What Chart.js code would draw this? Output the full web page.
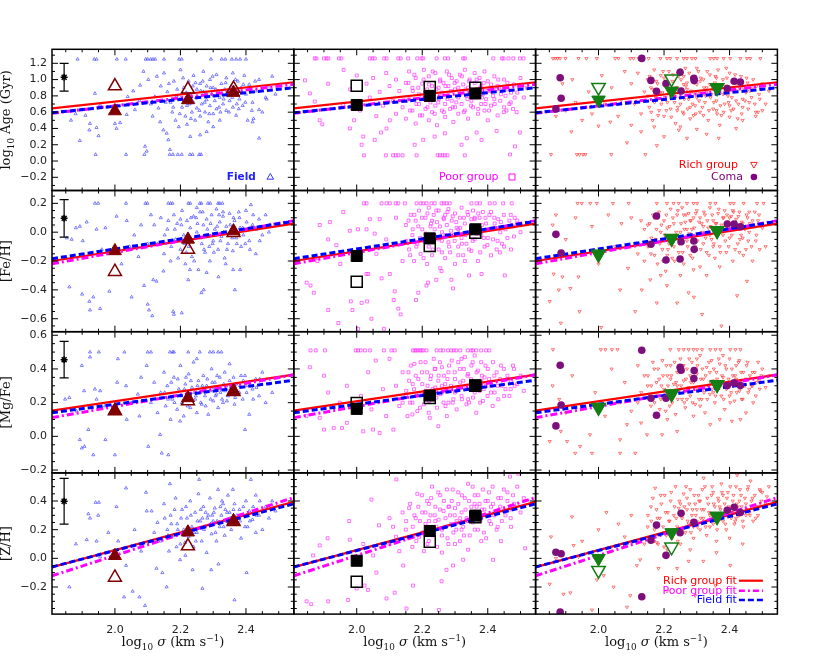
<!DOCTYPE html>
<html>
<head>
<meta charset="utf-8">
<script src="https://cdn.jsdelivr.net/npm/chart.js@4/dist/chart.umd.min.js"></script>
<style>
  body { margin: 0; background: #fff; }
  #wrap { position: relative; width: 830px; height: 664px; }
  #wrap canvas { position: absolute; left: 0; top: 0; }
</style>
</head>
<body>
<div id="wrap"></div>
<script>
// axes
const sigmaRange = [1.808, 2.546];
const rowRanges = [[-0.362, 1.372], [-0.69, 0.289], [-0.217, 0.621], [-0.389, 0.596]];
const rowMinor = [0.1, 0.05, 0.05, 0.05];
const sigmaTickLabels = ['2.0', '2.2', '2.4'];
const rowTickLabels = [
  ['\u22120.2', '0.0', '0.2', '0.4', '0.6', '0.8', '1.0', '1.2'],
  ['\u22120.6', '\u22120.4', '\u22120.2', '0.0', '0.2'],
  ['\u22120.2', '0.0', '0.2', '0.4', '0.6'],
  ['\u22120.2', '0.0', '0.2', '0.4']
];

// binned means (sigma bins) : [row][bin]
const binSigma = [2.0, 2.223, 2.362];
const fieldMeanFilled = [[0.614, 0.75, 0.84], [-0.13, -0.05, 0.008], [0.154, 0.228, 0.271], [0.018, 0.182, 0.26]];
const fieldMeanOpen = [[0.92, 0.88, 0.89], [-0.274, -0.12, -0.004], [0.15, 0.21, 0.265], [-0.133, 0.086, 0.255]];
const poorMeanFilled = [[0.688, 0.80, 0.83], [-0.165, -0.043, 0.02], [0.163, 0.242, 0.303], [-0.017, 0.191, 0.298]];
const poorMeanOpen = [[0.925, 0.91, 0.90], [-0.343, -0.096, -0.004], [0.198, 0.228, 0.30], [-0.164, 0.116, 0.287]];
const richMeanFilled = [[0.75, 0.86, 0.90], [-0.153, -0.043, 0.01], [0.172, 0.252, 0.307], [0.0, 0.18, 0.296]];
const richMeanOpen = [[0.905, 1.01, 0.90], [-0.153, -0.043, 0.01], [0.172, 0.252, 0.307], [-0.084, 0.079, 0.29]];

// fits: value at sigma ends, per row
const fitSigma = [1.808, 2.546];
const richFit = [[0.647, 0.967], [-0.20, 0.059], [0.153, 0.366], [-0.061, 0.394]];
const poorFit = [[0.586, 0.942], [-0.219, 0.08], [0.111, 0.365], [-0.122, 0.424]];
const fieldFit = [[0.593, 0.90], [-0.184, 0.075], [0.14, 0.333], [-0.06, 0.38]];

// typical error
const errSigma = 1.845;
const errCentre = [1.028, 0.096, 0.455, 0.398];
const errHalf = [0.17, 0.13, 0.108, 0.16];

// Coma
const comaSigma = [1.870, 1.883, 1.886, 2.132, 2.160, 2.177, 2.206, 2.249, 2.252, 2.291, 2.292, 2.393, 2.414, 2.433];
const comaAge = [0.64, 1.023, 0.77, 1.26, 0.99, 0.856, 0.95, 1.09, 0.86, 1.015, 0.99, 0.89, 0.98, 0.97];
const comaFeH = [-0.015, null, -0.144, null, -0.084, 0.112, -0.193, -0.186, -0.066, -0.061, -0.119, 0.057, 0.057, 0.038];
const comaMgFe = [0.062, 0.422, 0.186, 0.511, 0.226, 0.125, 0.226, 0.41, 0.392, 0.343, 0.39, 0.301, 0.317, 0.301];
const comaZH = [0.042, -0.375, 0.032, -0.268, 0.126, 0.232, 0.021, 0.179, 0.314, 0.251, null, 0.335, 0.356, 0.32];

// individual galaxies [log sigma, value]
const fieldAge = [
[1.886,1.25],[1.937,1.25],[1.944,1.25],[2.006,1.25],[2.033,1.25],[2.094,1.25],[2.100,1.25],[2.109,1.25],[2.116,1.25],[2.123,1.25],[2.150,1.25],[2.196,1.25],[2.204,1.25],[2.293,1.25],[2.326,1.25],[2.337,1.25],[2.357,1.25],[2.370,1.25],[2.382,1.25],[2.400,1.25],
[1.941,0.08],[2.034,0.08],[2.090,0.08],[2.167,0.08],[2.177,0.08],[2.192,0.08],[2.204,0.08],[2.229,0.08],[2.237,0.08],[2.257,0.08],[2.263,0.08],
[1.866,0.50],[1.880,0.58],[1.893,0.25],[1.899,0.63],[1.910,0.56],[1.922,0.38],[1.924,0.46],[1.939,0.83],[1.944,0.41],[1.950,0.31],[1.955,0.69],
[2.000,0.46],[2.005,0.40],[2.016,0.47],[2.036,0.57],[2.039,0.79],[2.056,0.86],[2.061,0.63],[2.075,0.74],[2.077,0.93],[2.087,1.10],[2.092,0.18],[2.097,0.12],[2.102,1.00],[2.110,0.70],[2.115,0.55],[2.122,0.79],[2.128,1.04],[2.133,0.65],[2.138,0.48],[2.140,0.92],[2.148,0.38],[2.150,1.08],[2.158,0.34],[2.160,0.85],[2.163,0.26],[2.168,0.14],[2.170,0.72],[2.175,0.60],[2.180,0.98],[2.185,0.50],[2.190,0.88],[2.195,0.42],[2.200,0.77],[2.200,1.12],[2.205,0.66],[2.210,0.90],[2.215,0.55],[2.220,0.45],[2.220,0.68],[2.225,0.98],[2.230,0.30],[2.230,0.82],[2.235,0.60],[2.240,0.72],[2.240,1.05],[2.245,0.50],[2.250,0.88],[2.250,0.65],[2.255,0.78],[2.260,0.95],[2.260,0.55],[2.265,0.70],[2.270,1.10],[2.270,0.85],[2.275,0.60],[2.280,0.75],[2.280,0.92],[2.280,0.36],[2.285,0.48],[2.290,0.68],[2.290,1.00],[2.295,0.82],[2.300,0.58],[2.300,0.90],[2.300,0.42],[2.305,0.74],[2.310,1.06],[2.310,0.64],[2.315,0.86],[2.320,0.78],[2.320,0.50],[2.325,0.95],[2.330,0.70],[2.335,0.88],[2.340,0.62],[2.340,1.02],[2.345,0.80],[2.350,0.74],[2.355,0.92],[2.360,0.66],[2.360,1.08],[2.365,0.84],[2.370,0.56],[2.375,0.98],[2.380,0.76],[2.385,0.90],[2.390,0.68],[2.395,1.05],[2.400,0.82],[2.405,0.50],[2.410,0.94],[2.420,0.72],[2.420,0.48],[2.423,0.52],[2.430,0.86],[2.440,1.00],[2.440,0.63],[2.450,0.60],[2.440,0.28],[2.460,0.78],[2.463,0.76],[2.470,0.92],[2.480,1.04],[2.490,0.82],[2.260,0.32],
[2.155,0.72],[2.165,0.95],[2.178,0.66],[2.188,0.80],[2.198,0.58],[2.208,1.02],[2.218,0.84],[2.228,0.70],[2.238,0.92],[2.248,0.78],[2.258,0.62],[2.268,0.98],[2.278,0.84],[2.288,0.58],[2.298,1.04],[2.308,0.88],[2.318,0.66],[2.328,0.82],[2.338,0.96],[2.348,0.60],[2.358,0.78],[2.368,1.00],[2.378,0.64],[2.388,0.84],[2.398,0.72],[2.408,0.88],[2.418,0.62],[2.428,0.98],[2.212,0.74],[2.246,0.96],[2.274,0.72],[2.302,0.80],[2.332,0.76],[2.352,0.86],[2.372,0.70],[2.392,0.94],[2.232,0.52],[2.262,0.86],[2.292,0.90],[2.322,0.60]
];
const fieldFeH = [
[1.939,0.2],[1.949,0.2],[2.034,0.2],[2.093,0.2],[2.099,0.2],[2.163,0.2],[2.170,0.2],[2.176,0.2],[2.224,0.2],[2.230,0.2],[2.259,0.2],[2.264,0.2],[2.284,0.2],[2.291,0.2],[2.315,0.2],[2.320,0.2],[2.328,0.2],[2.415,0.19],
[1.861,-0.38],[1.900,-0.43],[1.922,-0.48],[1.924,-0.54],[1.934,-0.45],[1.955,-0.53],[1.983,-0.41],[2.051,-0.45],[2.089,-0.37],[2.100,-0.50],[2.104,-0.54],[2.114,-0.58],[2.117,-0.33],[2.127,-0.34],[2.148,-0.27],[2.178,-0.55],[2.180,-0.57],[2.204,-0.56],[2.224,-0.33],[2.229,-0.26],[2.264,-0.42],[2.271,-0.40],[2.316,-0.31],[2.361,-0.26],[2.366,-0.40],[2.382,-0.26],
[1.853,-0.04],[1.868,-0.05],[1.881,0.03],[1.893,0.04],[1.902,-0.06],[1.914,0.07],[1.944,0.02],[1.971,0.03],[2.005,0.11],[2.036,0.08],[2.059,-0.02],[2.072,-0.17],[1.960,-0.12],[2.020,-0.22],[2.045,-0.10],[2.080,0.05],[2.100,-0.08],[2.110,0.12],
[2.12,0.05],[2.13,-0.08],[2.14,0.10],[2.15,-0.15],[2.16,0.02],[2.17,-0.20],[2.18,0.12],[2.185,-0.05],[2.19,0.06],[2.20,-0.12],[2.205,0.15],[2.21,-0.02],[2.215,-0.22],[2.22,0.08],[2.225,-0.10],[2.23,0.03],[2.235,-0.17],[2.24,0.11],[2.245,-0.04],[2.25,0.00],[2.255,-0.26],[2.26,0.14],[2.265,-0.08],[2.27,0.05],[2.275,-0.14],[2.28,0.09],[2.285,-0.02],[2.29,-0.20],[2.295,0.12],[2.30,-0.06],[2.305,0.02],[2.31,0.16],[2.315,-0.12],[2.32,0.07],[2.325,-0.03],[2.33,0.11],[2.335,-0.18],[2.34,0.04],[2.345,-0.08],[2.35,0.13],[2.355,0.00],[2.36,-0.13],[2.365,0.08],[2.37,-0.04],[2.38,0.10],[2.385,-0.10],[2.39,0.03],[2.40,0.15],[2.41,-0.06],[2.42,0.05],[2.43,-0.15],[2.44,0.09],[2.45,-0.02],[2.46,0.12],[2.47,0.00],[2.20,0.09],[2.25,0.17],[2.33,0.14],[2.28,-0.28],
[2.152,-0.02],[2.163,0.08],[2.172,-0.10],[2.183,0.02],[2.193,-0.18],[2.203,0.05],[2.212,-0.08],[2.222,-0.02],[2.232,0.10],[2.242,-0.20],[2.252,0.06],[2.262,-0.04],[2.272,-0.12],[2.282,0.02],[2.292,0.06],[2.302,-0.14],[2.312,0.04],[2.322,-0.06],[2.332,0.00],[2.342,-0.12],[2.352,0.05],[2.362,0.10],[2.372,-0.08],[2.382,0.03],[2.392,-0.02],[2.402,0.07],[2.412,-0.12],[2.422,0.12],[2.432,0.02],[2.442,-0.06],[2.218,-0.14],[2.248,0.10],[2.268,0.14],[2.298,-0.08],[2.318,0.12],[2.338,-0.22],[2.358,-0.04],[2.378,0.14],[2.398,-0.08],[2.288,-0.10]
];
const fieldMgFe = [
[1.924,0.5],[1.951,0.5],[2.029,0.5],[2.100,0.5],[2.110,0.5],[2.168,0.5],[2.176,0.5],[2.180,0.5],[2.224,0.5],[2.259,0.5],[2.290,0.5],[2.300,0.5],[2.315,0.5],[2.325,0.5],[2.009,0.46],[1.924,0.47],
[1.848,0.22],[1.861,0.23],[1.883,0.15],[1.893,-0.02],[1.899,-0.07],[1.899,0.42],[1.906,0.27],[1.907,-0.06],[1.919,0.04],[1.934,-0.11],[1.939,0.28],[1.944,0.22],[1.955,0.27],[1.971,-0.02],[2.000,-0.11],[2.007,0.32],[2.034,0.30],[2.036,0.10],[2.070,0.25],[2.075,0.12],[2.097,0.42],[2.102,-0.06],[2.138,0.01],[2.143,-0.10],[2.163,-0.11],[2.199,0.09],[2.397,0.04],[1.970,0.18],[2.050,0.20],[2.080,0.35],
[2.11,0.20],[2.12,0.32],[2.13,0.14],[2.14,0.26],[2.15,0.38],[2.155,0.18],[2.16,0.30],[2.17,0.10],[2.175,0.22],[2.18,0.35],[2.19,0.16],[2.195,0.28],[2.20,0.42],[2.205,0.20],[2.21,0.12],[2.215,0.31],[2.22,0.24],[2.225,0.37],[2.23,0.17],[2.235,0.29],[2.24,0.44],[2.245,0.22],[2.25,0.14],[2.255,0.33],[2.26,0.26],[2.265,0.19],[2.27,0.36],[2.275,0.24],[2.28,0.30],[2.285,0.13],[2.29,0.27],[2.295,0.40],[2.30,0.21],[2.305,0.32],[2.31,0.25],[2.315,0.17],[2.32,0.35],[2.325,0.28],[2.33,0.20],[2.335,0.38],[2.34,0.30],[2.345,0.24],[2.35,0.33],[2.36,0.27],[2.365,0.19],[2.37,0.31],[2.38,0.26],[2.385,0.36],[2.39,0.22],[2.40,0.30],[2.41,0.13],[2.42,0.28],[2.43,0.34],[2.44,0.24],[2.45,0.38],[2.46,0.20],[2.47,0.31],[2.48,0.26],[2.25,0.46],[2.35,0.43],
[2.152,0.26],[2.162,0.22],[2.172,0.32],[2.182,0.20],[2.192,0.34],[2.202,0.24],[2.212,0.28],[2.222,0.18],[2.232,0.33],[2.242,0.26],[2.252,0.30],[2.262,0.20],[2.272,0.28],[2.282,0.34],[2.292,0.22],[2.302,0.29],[2.312,0.36],[2.322,0.26],[2.332,0.31],[2.342,0.21],[2.352,0.28],[2.362,0.35],[2.372,0.25],[2.382,0.30],[2.392,0.33],[2.402,0.26],[2.412,0.30],[2.422,0.22],[2.432,0.29],[2.442,0.34],[2.217,0.35],[2.247,0.24],[2.277,0.18],[2.307,0.24],[2.337,0.27],[2.367,0.23],[2.397,0.36],[2.267,0.30],[2.297,0.32],[2.327,0.22]
];
const fieldZH = [
[1.861,-0.20],[1.881,0.10],[1.914,0.13],[1.919,0.31],[1.924,0.28],[1.941,0.39],[1.944,0.12],[1.949,0.30],[1.951,0.39],[1.955,0.01],[2.005,0.36],[2.010,0.12],[2.028,-0.27],[2.034,0.49],[2.034,-0.05],[2.054,-0.23],[2.075,-0.27],[2.092,-0.33],[2.095,0.46],[2.097,0.33],[2.112,0.33],[2.127,-0.07],[2.145,-0.10],[2.158,-0.20],[2.168,0.52],[2.188,0.08],[2.199,-0.01],[2.214,0.11],[2.237,-0.08],[2.257,0.55],[2.267,-0.21],[2.294,-0.08],[2.316,-0.04],[2.365,-0.29],[2.402,-0.10],[2.415,0.55],[1.980,0.18],[2.060,0.20],[2.080,0.05],[2.120,0.18],
[2.13,0.25],[2.14,0.12],[2.15,0.38],[2.16,0.20],[2.165,0.05],[2.17,0.30],[2.18,0.16],[2.185,0.42],[2.19,0.24],[2.20,0.10],[2.205,0.34],[2.21,0.20],[2.215,0.02],[2.22,0.28],[2.225,0.15],[2.23,0.40],[2.235,0.22],[2.24,0.08],[2.245,0.32],[2.25,0.18],[2.255,0.45],[2.26,0.26],[2.265,0.12],[2.27,0.36],[2.275,0.22],[2.28,0.04],[2.285,0.30],[2.29,0.42],[2.295,0.17],[2.30,0.26],[2.305,0.35],[2.31,0.12],[2.315,0.48],[2.32,0.22],[2.325,0.30],[2.33,0.38],[2.335,0.16],[2.34,0.26],[2.345,0.44],[2.35,0.32],[2.355,0.20],[2.36,0.28],[2.365,0.38],[2.37,0.24],[2.38,0.34],[2.385,0.14],[2.39,0.30],[2.40,0.40],[2.405,0.22],[2.41,0.33],[2.42,0.27],[2.43,0.44],[2.44,0.30],[2.45,0.20],[2.46,0.36],[2.47,0.28],[2.48,0.40],[2.49,0.33],[2.43,0.18],[2.36,0.48],
[2.152,0.28],[2.162,0.16],[2.172,0.24],[2.182,0.34],[2.192,0.20],[2.202,0.28],[2.212,0.16],[2.222,0.22],[2.232,0.30],[2.242,0.18],[2.252,0.26],[2.262,0.34],[2.272,0.20],[2.282,0.28],[2.292,0.24],[2.302,0.32],[2.312,0.26],[2.322,0.36],[2.332,0.22],[2.342,0.32],[2.352,0.28],[2.362,0.34],[2.372,0.30],[2.382,0.26],[2.392,0.36],[2.402,0.30],[2.412,0.26],[2.422,0.36],[2.432,0.30],[2.442,0.40],[2.217,0.36],[2.247,0.12],[2.277,0.32],[2.307,0.18],[2.337,0.34],[2.367,0.24],[2.397,0.22],[2.267,0.28],[2.297,0.30],[2.327,0.40]
];

const poorAge = [
[1.872,1.26],[1.877,1.26],[1.900,1.26],[1.908,1.26],[1.913,1.26],[1.946,1.26],[1.953,1.26],[2.040,1.26],[2.048,1.26],[2.055,1.26],[2.084,1.26],[2.091,1.26],[2.127,1.26],[2.134,1.26],[2.157,1.26],[2.185,1.26],[2.198,1.26],[2.203,1.26],[2.244,1.26],[2.269,1.26],[2.279,1.26],[2.325,1.26],[2.330,1.26],[2.417,1.26],[2.443,1.26],[2.448,1.26],[2.463,1.26],[2.478,1.26],[2.498,1.26],[2.509,1.26],
[2.022,0.07],[2.089,0.07],[2.111,0.07],[2.119,0.07],[2.127,0.07],[2.140,0.07],[2.183,0.07],[2.247,0.07],[2.254,0.07],[2.262,0.07],[2.269,0.07],[2.277,0.07],[2.330,0.07],
[1.842,0.99],[1.857,0.83],[1.872,0.73],[1.887,0.50],[1.895,0.45],[1.913,0.95],[1.959,0.69],[1.979,0.40],[1.992,0.50],[2.015,0.20],[2.020,0.30],[2.055,0.26],[2.074,0.35],[2.091,0.40],[2.101,0.50],[2.177,0.20],[2.203,0.26],[2.238,0.30],[2.269,0.34],[2.320,0.20],[2.336,0.28],[2.366,0.35],[2.381,0.26],[2.427,0.37],[2.457,0.62],[2.468,0.08],[2.483,0.18],[2.488,0.60],[2.498,0.35],
[1.96,1.12],[1.98,0.88],[2.00,1.05],[2.01,0.62],[2.03,0.95],[2.04,0.78],[2.05,1.02],[2.06,0.55],[2.07,0.85],[2.08,0.68],[2.09,1.08],[2.10,0.92],[2.11,0.74],[2.12,1.00],[2.12,0.58],[2.13,0.86],[2.14,0.66],[2.15,0.96],[2.15,0.52],[2.16,1.10],[2.16,0.76],[2.17,0.90],[2.17,0.62],[2.18,1.02],[2.18,0.46],[2.19,0.82],[2.19,0.70],[2.20,0.95],[2.20,0.56],[2.205,1.12],[2.21,0.78],[2.21,0.64],[2.215,0.88],[2.22,1.04],[2.22,0.50],[2.225,0.72],[2.23,0.92],[2.23,0.60],[2.235,0.84],[2.24,1.08],[2.24,0.68],[2.245,0.44],[2.25,0.90],[2.25,0.76],[2.255,1.00],[2.26,0.62],[2.26,0.84],[2.265,0.96],[2.27,0.70],[2.27,0.54],[2.275,1.10],[2.28,0.80],[2.28,0.92],[2.285,0.64],[2.29,1.02],[2.29,0.74],[2.295,0.48],[2.30,0.88],[2.30,0.66],[2.305,0.98],[2.31,0.78],[2.31,0.58],[2.315,1.06],[2.32,0.86],[2.32,0.70],[2.325,0.94],[2.33,0.62],[2.33,1.12],[2.335,0.80],[2.34,0.90],[2.34,0.52],[2.345,1.00],[2.35,0.74],[2.35,0.84],[2.355,0.66],[2.36,0.96],[2.36,1.08],[2.365,0.78],[2.37,0.58],[2.37,0.88],[2.375,1.02],[2.38,0.70],[2.38,0.92],[2.385,0.82],[2.39,1.10],[2.39,0.62],[2.395,0.76],[2.40,0.98],[2.40,0.50],[2.41,0.86],[2.41,0.68],[2.42,1.04],[2.42,0.76],[2.43,0.92],[2.43,0.56],[2.44,0.82],[2.45,1.00],[2.45,0.66],[2.46,0.88],[2.47,0.72],[2.48,0.94],[2.49,0.84],[2.50,1.02],[2.51,0.78],[2.52,0.90],
[2.151,0.74],[2.158,0.96],[2.163,0.62],[2.171,0.86],[2.176,1.06],[2.182,0.70],[2.188,0.90],[2.193,0.56],[2.199,0.80],[2.204,1.00],[2.210,0.84],[2.216,0.66],[2.221,0.94],[2.227,0.78],[2.232,1.10],[2.238,0.58],[2.243,0.88],[2.249,0.72],[2.254,0.98],[2.260,0.82],[2.266,0.60],[2.271,0.92],[2.277,0.76],[2.282,1.06],[2.288,0.86],[2.293,0.66],[2.299,0.96],[2.304,0.72],[2.310,0.90],[2.316,0.82],[2.321,1.04],[2.327,0.60],[2.332,0.88],[2.338,0.76],[2.343,0.98],[2.349,0.68],[2.354,0.86],[2.360,0.80],[2.366,1.00],[2.371,0.64],[2.377,0.90],[2.382,0.78],[2.388,0.96],[2.393,0.70],[2.399,0.86],[2.404,0.62],[2.410,0.94],[2.416,0.80],[2.421,0.70],[2.427,0.88],[2.432,1.00],[2.438,0.74],[2.443,0.90],[2.449,0.60],[2.454,0.80],[2.460,0.96],[2.466,0.70],[2.471,0.84],[2.477,0.64],[2.482,0.78]
];
const poorFeH = [
[2.022,0.2],[2.030,0.2],[2.076,0.2],[2.091,0.2],[2.101,0.2],[2.119,0.2],[2.127,0.2],[2.147,0.2],[2.183,0.2],[2.195,0.2],[2.203,0.2],[2.213,0.2],[2.228,0.2],[2.238,0.2],[2.259,0.2],[2.266,0.2],[2.274,0.2],[2.284,0.2],[2.350,0.2],[2.366,0.2],[2.376,0.2],[2.406,0.2],[2.421,0.2],[2.447,0.2],[2.473,0.2],
[1.847,-0.35],[1.859,-0.37],[1.869,-0.42],[1.887,0.05],[1.913,-0.54],[1.913,-0.05],[1.918,0.07],[1.938,-0.09],[1.944,-0.63],[1.959,0.14],[1.979,0.01],[1.982,-0.48],[1.987,-0.54],[2.004,-0.67],[2.004,0.02],[2.015,-0.49],[2.030,-0.29],[2.030,0.02],[2.032,-0.48],[2.035,-0.29],[2.040,0.09],[2.045,-0.60],[2.055,-0.01],[2.070,0.09],[2.076,-0.32],[2.083,-0.67],[2.101,-0.29],[2.113,-0.47],[2.116,-0.41],[2.127,-0.53],[2.134,-0.57],[2.181,-0.47],[2.188,-0.42],[2.213,-0.37],[2.218,-0.35],[2.243,-0.33],[2.259,-0.27],[2.289,-0.33],[2.294,-0.39],[2.343,-0.30],[2.381,-0.29],[2.437,-0.14],[2.452,-0.30],[1.880,-0.20],[1.950,-0.22],[2.060,-0.15],[2.090,-0.05],[2.120,0.10],[2.140,-0.20],
[2.15,0.05],[2.16,-0.12],[2.165,0.12],[2.17,-0.02],[2.175,-0.20],[2.18,0.08],[2.185,-0.08],[2.19,0.15],[2.195,-0.15],[2.20,0.02],[2.205,-0.05],[2.21,0.10],[2.215,-0.22],[2.22,0.17],[2.22,-0.10],[2.225,0.04],[2.23,-0.16],[2.235,0.12],[2.24,-0.03],[2.245,0.07],[2.25,-0.12],[2.25,0.15],[2.255,-0.25],[2.26,0.00],[2.265,0.10],[2.27,-0.18],[2.275,0.05],[2.28,-0.07],[2.28,0.16],[2.285,-0.14],[2.29,0.08],[2.295,-0.02],[2.30,0.13],[2.30,-0.22],[2.305,0.03],[2.31,-0.10],[2.315,0.10],[2.32,-0.04],[2.32,0.17],[2.325,-0.16],[2.33,0.06],[2.335,-0.08],[2.34,0.12],[2.345,0.00],[2.35,-0.13],[2.35,0.09],[2.355,0.15],[2.36,-0.05],[2.365,0.04],[2.37,-0.20],[2.375,0.10],[2.38,-0.02],[2.385,0.14],[2.39,-0.10],[2.395,0.06],[2.40,-0.04],[2.405,0.12],[2.41,-0.16],[2.415,0.02],[2.42,0.10],[2.43,-0.06],[2.44,0.07],[2.45,-0.10],[2.46,0.04],[2.47,0.12],[2.48,-0.03],[2.49,0.08],[2.50,0.00],[2.23,0.08],[2.27,0.12],[2.31,0.02],[2.33,-0.20],[2.26,-0.06],[2.36,0.10],
[2.151,-0.06],[2.158,0.08],[2.163,-0.16],[2.171,0.02],[2.176,0.12],[2.182,-0.10],[2.188,0.04],[2.193,-0.04],[2.199,0.10],[2.204,-0.18],[2.210,-0.01],[2.216,0.13],[2.221,-0.07],[2.227,0.06],[2.232,-0.12],[2.238,0.02],[2.243,0.15],[2.249,-0.05],[2.254,0.04],[2.260,-0.14],[2.266,0.09],[2.271,-0.02],[2.277,0.14],[2.282,-0.10],[2.288,0.01],[2.293,0.11],[2.299,-0.06],[2.304,0.07],[2.310,-0.16],[2.316,0.03],[2.321,-0.08],[2.327,0.10],[2.332,-0.02],[2.338,0.14],[2.343,-0.12],[2.349,0.04],[2.354,-0.06],[2.360,0.09],[2.366,-0.01],[2.371,0.13],[2.377,-0.14],[2.382,0.05],[2.388,-0.04],[2.393,0.10],[2.399,-0.09],[2.404,0.02],[2.410,0.14],[2.416,-0.05],[2.421,0.06],[2.427,-0.12],[2.432,0.09],[2.438,0.00],[2.443,-0.08],[2.449,0.12],[2.454,0.02],[2.460,-0.04],[2.466,0.08],[2.471,-0.12],[2.477,0.04],[2.482,0.10]
];
const poorMgFe = [
[1.859,0.51],[1.875,0.51],[1.903,0.51],[1.997,0.51],[2.004,0.51],[2.012,0.51],[2.025,0.51],[2.040,0.51],[2.083,0.51],[2.106,0.51],[2.116,0.51],[2.172,0.51],[2.177,0.51],[2.182,0.51],[2.187,0.51],[2.193,0.51],[2.198,0.51],[2.203,0.51],[2.213,0.51],[2.244,0.51],[2.256,0.51],[2.264,0.51],[2.279,0.51],[2.289,0.51],[2.296,0.51],[2.304,0.51],[2.316,0.51],[2.339,0.51],[2.350,0.51],[2.355,0.51],[2.365,0.51],[2.380,0.51],[2.395,0.51],[2.405,0.51],
[1.847,0.12],[1.857,0.41],[1.887,0.11],[1.900,0.04],[1.900,0.36],[1.913,0.26],[1.930,0.05],[1.948,0.20],[1.955,0.05],[1.970,0.08],[2.013,0.24],[2.020,0.03],[2.035,0.38],[2.045,0.16],[2.050,0.04],[2.058,0.45],[2.070,0.02],[2.100,0.46],[2.112,0.04],[2.170,0.13],[2.223,0.11],[2.249,0.06],[1.970,0.30],[2.080,0.28],[2.090,0.12],[2.140,0.20],
[2.12,0.30],[2.13,0.18],[2.14,0.38],[2.15,0.24],[2.155,0.12],[2.16,0.33],[2.165,0.42],[2.17,0.20],[2.175,0.28],[2.18,0.36],[2.185,0.15],[2.19,0.25],[2.195,0.44],[2.20,0.31],[2.205,0.19],[2.21,0.27],[2.215,0.38],[2.22,0.14],[2.225,0.34],[2.23,0.22],[2.235,0.46],[2.24,0.29],[2.245,0.17],[2.25,0.36],[2.255,0.25],[2.26,0.41],[2.265,0.20],[2.27,0.31],[2.275,0.12],[2.28,0.38],[2.285,0.27],[2.29,0.45],[2.295,0.22],[2.30,0.34],[2.305,0.16],[2.31,0.29],[2.315,0.40],[2.32,0.24],[2.325,0.33],[2.33,0.47],[2.335,0.19],[2.34,0.37],[2.345,0.28],[2.35,0.42],[2.355,0.23],[2.36,0.32],[2.365,0.14],[2.37,0.39],[2.375,0.27],[2.38,0.44],[2.385,0.21],[2.39,0.35],[2.395,0.30],[2.40,0.40],[2.41,0.26],[2.415,0.18],[2.42,0.36],[2.43,0.30],[2.44,0.42],[2.45,0.24],[2.46,0.34],[2.47,0.28],[2.48,0.40],[2.49,0.31],[2.50,0.36],[2.51,0.27],[2.22,0.24],[2.26,0.30],[2.30,0.26],[2.34,0.22],[2.38,0.33],[2.28,0.20],[2.24,0.40],[2.32,0.46],[2.36,0.48],
[2.151,0.27],[2.158,0.38],[2.163,0.20],[2.171,0.31],[2.176,0.43],[2.182,0.24],[2.188,0.34],[2.193,0.17],[2.199,0.38],[2.204,0.26],[2.210,0.44],[2.216,0.30],[2.221,0.21],[2.227,0.36],[2.232,0.28],[2.238,0.40],[2.243,0.23],[2.249,0.33],[2.254,0.44],[2.260,0.26],[2.266,0.36],[2.271,0.18],[2.277,0.34],[2.282,0.42],[2.288,0.30],[2.293,0.20],[2.299,0.38],[2.304,0.27],[2.310,0.44],[2.316,0.32],[2.321,0.22],[2.327,0.40],[2.332,0.30],[2.338,0.36],[2.343,0.20],[2.349,0.34],[2.354,0.44],[2.360,0.26],[2.366,0.38],[2.371,0.30],[2.377,0.20],[2.382,0.36],[2.388,0.28],[2.393,0.42],[2.399,0.24],[2.404,0.34],[2.410,0.30],[2.416,0.44],[2.421,0.26],[2.427,0.38],[2.432,0.22],[2.438,0.34],[2.443,0.30],[2.449,0.40],[2.454,0.28],[2.460,0.36],[2.466,0.24],[2.471,0.33],[2.477,0.42],[2.482,0.30]
];
const poorZH = [
[1.847,-0.30],[1.861,-0.32],[1.867,0.02],[1.887,0.09],[1.911,0.14],[1.913,-0.30],[1.974,-0.29],[1.977,0.26],[1.979,0.13],[2.000,-0.21],[2.024,-0.19],[2.034,-0.22],[2.045,0.41],[2.050,0.02],[2.068,0.23],[2.091,-0.28],[2.111,0.22],[2.116,-0.24],[2.121,0.55],[2.142,-0.05],[2.152,-0.35],[2.172,-0.19],[2.251,-0.36],[2.259,-0.16],[2.274,-0.08],[2.294,-0.05],[2.325,-0.01],[2.416,-0.01],[2.468,0.57],[2.493,0.59],[2.514,0.07],[2.000,0.00],[2.020,0.10],[2.060,-0.10],[2.100,0.10],[2.130,0.05],
[2.15,0.20],[2.16,0.35],[2.17,0.08],[2.18,0.28],[2.185,0.45],[2.19,0.15],[2.20,0.32],[2.205,0.05],[2.21,0.24],[2.215,0.40],[2.22,0.12],[2.225,0.30],[2.23,0.50],[2.235,0.20],[2.24,0.36],[2.245,0.08],[2.25,0.27],[2.255,0.44],[2.26,0.16],[2.265,0.33],[2.27,0.22],[2.275,0.48],[2.28,0.10],[2.285,0.30],[2.29,0.40],[2.295,0.18],[2.30,0.35],[2.305,0.26],[2.31,0.46],[2.315,0.12],[2.32,0.32],[2.325,0.22],[2.33,0.42],[2.335,0.28],[2.34,0.52],[2.345,0.16],[2.35,0.36],[2.355,0.25],[2.36,0.44],[2.365,0.30],[2.37,0.20],[2.375,0.38],[2.38,0.28],[2.385,0.48],[2.39,0.34],[2.395,0.14],[2.40,0.40],[2.405,0.26],[2.41,0.36],[2.415,0.50],[2.42,0.30],[2.43,0.22],[2.44,0.42],[2.45,0.33],[2.46,0.46],[2.47,0.28],[2.48,0.38],[2.49,0.50],[2.50,0.32],[2.51,0.42],[2.20,0.18],[2.24,0.26],[2.28,0.36],[2.32,0.20],[2.36,0.38],[2.40,0.30],[2.26,0.04],[2.30,0.10],[2.34,0.06],[2.38,0.12],[2.44,0.12],[2.22,0.38],[2.12,0.15],[2.10,0.28],[2.14,0.32],
[2.151,0.26],[2.158,0.14],[2.163,0.38],[2.171,0.22],[2.176,0.30],[2.182,0.12],[2.188,0.36],[2.193,0.26],[2.199,0.44],[2.204,0.18],[2.210,0.32],[2.216,0.10],[2.221,0.26],[2.227,0.42],[2.232,0.16],[2.238,0.30],[2.243,0.22],[2.249,0.46],[2.254,0.34],[2.260,0.20],[2.266,0.40],[2.271,0.28],[2.277,0.14],[2.282,0.36],[2.288,0.24],[2.293,0.48],[2.299,0.30],[2.304,0.20],[2.310,0.38],[2.316,0.28],[2.321,0.44],[2.327,0.16],[2.332,0.34],[2.338,0.26],[2.343,0.40],[2.349,0.30],[2.354,0.50],[2.360,0.20],[2.366,0.36],[2.371,0.44],[2.377,0.26],[2.382,0.34],[2.388,0.18],[2.393,0.40],[2.399,0.30],[2.404,0.46],[2.410,0.24],[2.416,0.38],[2.421,0.32],[2.427,0.20],[2.432,0.42],[2.438,0.36],[2.443,0.26],[2.449,0.48],[2.454,0.30],[2.460,0.40],[2.466,0.34],[2.471,0.22],[2.477,0.44],[2.482,0.36]
];

const richAge = [
[1.861,1.26],[1.868,1.26],[1.875,1.26],[1.883,1.26],[1.899,1.26],[1.939,1.26],[1.963,1.26],[1.995,1.26],[2.051,1.26],[2.061,1.26],[2.097,1.26],[2.107,1.26],[2.122,1.26],[2.153,1.26],[2.189,1.26],[2.209,1.26],[2.219,1.26],[2.240,1.26],[2.260,1.26],[2.270,1.26],[2.285,1.26],[2.296,1.26],[2.341,1.26],[2.352,1.26],[2.362,1.26],[2.382,1.26],[2.402,1.26],[2.433,1.26],[2.453,1.26],[2.463,1.26],[2.494,1.26],
[1.855,0.08],[1.934,0.08],[1.942,0.08],[1.953,0.08],[1.960,0.08],[2.039,0.08],[2.143,0.08],
[2.087,0.225],[2.178,0.19],[2.367,0.28],[2.245,0.38],[2.300,0.39],[1.917,0.36],[2.000,0.43],[2.036,0.48],[1.870,0.55],[1.900,0.62],[1.950,0.50],[1.930,0.72],[1.890,0.95],[1.920,1.00],[1.980,0.58],[2.020,0.70],[2.060,0.55],[2.100,0.44],[2.130,0.36],[2.200,0.30],[2.270,0.28],[2.330,0.33],[2.420,0.40],[2.440,0.50],[2.480,0.55],[2.500,0.62],[1.97,0.85],[2.01,1.05],[2.04,0.90],[2.07,0.75],[2.08,1.10],
[2.10,0.95],[2.11,0.70],[2.12,1.08],[2.13,0.58],[2.14,0.85],[2.15,1.00],[2.155,0.66],[2.16,0.90],[2.165,0.50],[2.17,1.12],[2.175,0.78],[2.18,0.95],[2.185,0.62],[2.19,1.05],[2.195,0.84],[2.20,0.55],[2.205,0.92],[2.21,0.72],[2.215,1.10],[2.22,0.64],[2.225,0.98],[2.23,0.80],[2.235,0.46],[2.24,0.90],[2.245,1.04],[2.25,0.70],[2.255,0.86],[2.26,0.58],[2.265,1.14],[2.27,0.96],[2.275,0.76],[2.28,0.52],[2.285,1.02],[2.29,0.84],[2.295,0.68],[2.30,0.94],[2.305,1.10],[2.31,0.60],[2.315,0.80],[2.32,1.00],[2.325,0.72],[2.33,0.90],[2.335,0.50],[2.34,1.06],[2.345,0.82],[2.35,0.64],[2.355,0.96],[2.36,0.74],[2.365,1.12],[2.37,0.88],[2.375,0.56],[2.38,1.00],[2.385,0.70],[2.39,0.92],[2.395,0.80],[2.40,1.08],[2.405,0.62],[2.41,0.86],[2.415,0.98],[2.42,0.74],[2.425,0.52],[2.43,0.90],[2.435,1.04],[2.44,0.66],[2.45,0.84],[2.455,0.96],[2.46,0.72],[2.47,0.90],[2.48,0.60],[2.49,0.82],[2.50,0.95],[2.51,0.70],[2.52,0.86],[2.22,0.86],[2.26,0.94],[2.30,0.78],[2.34,0.94],[2.38,0.82],[2.42,0.96],[2.24,0.62],[2.28,0.66],[2.32,0.56],[2.36,0.62],[2.40,0.54],[2.44,0.76],[2.20,1.02],[2.26,1.04],[2.30,1.14],[2.36,1.02],[2.40,0.68],[2.33,0.84],[2.27,0.88],[2.21,0.88],[2.35,0.88],[2.25,1.12],[2.31,0.98],[2.39,1.14],[2.29,0.56],[2.17,0.42],[2.25,0.42],[2.37,0.44],
[2.151,0.80],[2.156,1.04],[2.161,0.60],[2.166,0.88],[2.171,0.72],[2.177,0.98],[2.182,0.56],[2.187,0.84],[2.192,0.70],[2.197,1.10],[2.202,0.78],[2.207,0.62],[2.212,0.94],[2.217,0.82],[2.222,0.54],[2.227,1.06],[2.232,0.72],[2.237,0.90],[2.242,0.66],[2.247,0.84],[2.252,1.00],[2.257,0.60],[2.262,0.76],[2.267,0.92],[2.272,0.64],[2.277,1.08],[2.282,0.86],[2.287,0.70],[2.292,0.96],[2.297,0.58],[2.302,0.84],[2.307,0.74],[2.312,1.02],[2.317,0.66],[2.322,0.90],[2.327,0.80],[2.332,1.10],[2.337,0.62],[2.342,0.78],[2.347,0.92],[2.352,0.72],[2.357,1.04],[2.362,0.58],[2.367,0.86],[2.372,0.68],[2.377,0.94],[2.382,0.60],[2.387,0.84],[2.392,1.02],[2.397,0.72],[2.402,0.88],[2.407,0.78],[2.412,0.64],[2.417,1.06],[2.422,0.86],[2.427,0.70],[2.432,0.98],[2.437,0.58],[2.442,0.90],[2.447,0.74],[2.452,1.02],[2.457,0.64],[2.462,0.86],[2.467,0.78],[2.472,1.00],[2.477,0.70],[2.482,0.92],[2.487,0.60],[2.492,0.76],[2.497,0.88]
];
const richFeH = [
[1.936,0.2],[1.949,0.2],[1.975,0.2],[1.995,0.2],[2.044,0.2],[2.092,0.2],[2.178,0.2],[2.209,0.2],[2.229,0.2],[2.245,0.2],[2.270,0.2],[2.290,0.2],[2.301,0.2],[2.341,0.2],[2.357,0.2],[2.402,0.2],[2.413,0.2],[2.443,0.2],[2.484,0.2],[2.504,0.2],
[1.851,-0.48],[1.863,-0.29],[1.879,-0.40],[1.885,-0.63],[1.890,-0.31],[1.914,-0.39],[1.939,-0.31],[1.942,-0.55],[2.008,-0.66],[2.066,-0.40],[2.112,-0.55],[2.132,-0.40],[2.158,-0.33],[2.178,-0.49],[2.209,-0.37],[2.240,-0.49],[2.275,-0.42],[2.291,-0.45],[2.316,-0.57],[2.375,-0.65],[2.423,-0.44],[2.453,-0.34],[1.860,0.05],[1.870,0.12],[1.900,-0.05],[1.930,0.10],[1.960,-0.15],[1.980,0.04],[2.000,-0.22],[2.030,0.12],[2.050,-0.10],[2.070,0.06],[2.090,-0.25],[2.100,0.10],[2.120,-0.15],[2.140,0.02],
[2.15,0.05],[2.16,-0.15],[2.17,0.10],[2.175,-0.05],[2.18,-0.22],[2.185,0.14],[2.19,0.00],[2.195,-0.12],[2.20,0.08],[2.205,-0.27],[2.21,0.03],[2.215,-0.08],[2.22,0.16],[2.225,-0.18],[2.23,0.06],[2.235,-0.03],[2.24,0.12],[2.245,-0.14],[2.25,0.00],[2.255,0.17],[2.26,-0.22],[2.265,0.07],[2.27,-0.06],[2.275,0.13],[2.28,-0.16],[2.285,0.02],[2.29,0.10],[2.295,-0.10],[2.30,0.15],[2.305,-0.02],[2.31,-0.24],[2.315,0.06],[2.32,-0.08],[2.325,0.12],[2.33,-0.14],[2.335,0.03],[2.34,0.17],[2.345,-0.05],[2.35,0.08],[2.355,-0.18],[2.36,0.00],[2.365,0.13],[2.37,-0.10],[2.375,0.05],[2.38,-0.02],[2.385,0.15],[2.39,-0.14],[2.395,0.07],[2.40,-0.04],[2.405,0.11],[2.41,-0.20],[2.415,0.02],[2.42,0.09],[2.425,-0.08],[2.43,0.14],[2.435,-0.02],[2.44,0.06],[2.45,-0.12],[2.455,0.10],[2.46,0.00],[2.47,0.08],[2.48,-0.06],[2.49,0.12],[2.50,0.03],[2.51,-0.10],[2.52,0.06],[2.23,-0.10],[2.27,0.02],[2.31,0.10],[2.35,-0.10],[2.39,0.04],[2.43,-0.14],[2.25,-0.30],[2.29,-0.26],[2.33,-0.30],[2.37,-0.24],[2.41,0.15],[2.21,-0.16],[2.26,0.12],[2.34,-0.02],[2.38,0.10],[2.44,-0.04],[2.28,0.08],[2.32,0.04],[2.36,0.06],[2.40,0.10],[2.46,0.14],[2.19,-0.30],[2.47,-0.20],[2.12,-0.08],[2.13,0.08],[2.14,-0.20],
[2.151,-0.10],[2.156,0.06],[2.161,-0.04],[2.166,0.12],[2.171,-0.16],[2.177,0.02],[2.182,0.10],[2.187,-0.08],[2.192,0.05],[2.197,-0.20],[2.202,-0.02],[2.207,0.12],[2.212,-0.12],[2.217,0.04],[2.222,-0.05],[2.227,0.10],[2.232,-0.20],[2.237,0.00],[2.242,0.15],[2.247,-0.08],[2.252,0.06],[2.257,-0.14],[2.262,0.02],[2.267,0.12],[2.272,-0.10],[2.277,-0.01],[2.282,0.08],[2.287,-0.18],[2.292,0.03],[2.297,0.13],[2.302,-0.06],[2.307,0.07],[2.312,-0.12],[2.317,0.00],[2.322,0.14],[2.327,-0.04],[2.332,0.08],[2.337,-0.16],[2.342,0.04],[2.347,0.12],[2.352,-0.08],[2.357,0.06],[2.362,-0.02],[2.367,0.16],[2.372,-0.14],[2.377,0.02],[2.382,0.10],[2.387,-0.06],[2.392,0.12],[2.397,-0.10],[2.402,0.04],[2.407,-0.02],[2.412,0.14],[2.417,-0.12],[2.422,0.03],[2.427,0.11],[2.432,-0.05],[2.437,0.07],[2.442,-0.16],[2.447,0.02],[2.452,0.12],[2.457,-0.06],[2.462,0.06],[2.467,-0.10],[2.472,0.04],[2.477,0.14],[2.482,-0.02],[2.487,0.08],[2.492,-0.12],[2.497,0.05]
];
const richMgFe = [
[1.861,0.515],[2.007,0.515],[2.021,0.515],[2.041,0.515],[2.058,0.515],[2.219,0.515],[2.245,0.515],[2.260,0.515],[2.275,0.515],[2.290,0.515],[2.301,0.515],[2.316,0.515],[2.341,0.515],[2.357,0.515],[2.372,0.515],[2.402,0.515],[2.418,0.515],[2.433,0.515],
[1.851,-0.03],[1.885,0.03],[1.904,-0.03],[1.929,-0.10],[1.944,-0.06],[1.974,0.01],[1.980,-0.10],[2.066,-0.02],[2.066,-0.10],[2.087,0.07],[2.112,-0.10],[2.148,0.01],[2.194,0.01],[2.240,0.03],[2.341,0.07],[2.407,0.09],[2.433,0.10],[1.860,0.30],[1.880,0.22],[1.900,0.14],[1.920,0.36],[1.950,0.18],[1.990,0.26],[2.020,0.12],[2.040,0.40],[2.060,0.20],[2.080,0.32],[2.100,0.15],[2.120,0.42],[2.130,0.08],
[2.15,0.30],[2.16,0.18],[2.17,0.40],[2.175,0.24],[2.18,0.12],[2.185,0.34],[2.19,0.22],[2.195,0.45],[2.20,0.28],[2.205,0.15],[2.21,0.36],[2.215,0.26],[2.22,0.42],[2.225,0.20],[2.23,0.31],[2.235,0.13],[2.24,0.38],[2.245,0.27],[2.25,0.46],[2.255,0.22],[2.26,0.33],[2.265,0.17],[2.27,0.40],[2.275,0.29],[2.28,0.24],[2.285,0.44],[2.29,0.32],[2.295,0.19],[2.30,0.37],[2.305,0.27],[2.31,0.48],[2.315,0.22],[2.32,0.34],[2.325,0.14],[2.33,0.41],[2.335,0.30],[2.34,0.25],[2.345,0.45],[2.35,0.33],[2.355,0.20],[2.36,0.38],[2.365,0.28],[2.37,0.43],[2.375,0.24],[2.38,0.35],[2.385,0.16],[2.39,0.40],[2.395,0.30],[2.40,0.46],[2.405,0.26],[2.41,0.36],[2.415,0.21],[2.42,0.42],[2.425,0.31],[2.43,0.27],[2.435,0.38],[2.44,0.22],[2.45,0.34],[2.455,0.44],[2.46,0.28],[2.47,0.38],[2.48,0.24],[2.49,0.33],[2.50,0.40],[2.51,0.29],[2.52,0.36],[2.24,0.30],[2.28,0.36],[2.32,0.28],[2.36,0.32],[2.40,0.24],[2.44,0.30],[2.26,0.42],[2.30,0.46],[2.34,0.38],[2.38,0.48],[2.42,0.34],[2.22,0.34],[2.27,0.22],[2.31,0.18],[2.35,0.26],[2.39,0.28],[2.43,0.45],[2.47,0.30],[2.21,0.10],[2.29,0.12],[2.37,0.10],[2.45,0.14],[2.13,0.26],[2.14,0.36],[2.12,0.20],
[2.151,0.36],[2.156,0.22],[2.161,0.30],[2.166,0.44],[2.171,0.20],[2.177,0.32],[2.182,0.40],[2.187,0.16],[2.192,0.30],[2.197,0.36],[2.202,0.22],[2.207,0.42],[2.212,0.30],[2.217,0.18],[2.222,0.36],[2.227,0.26],[2.232,0.44],[2.237,0.32],[2.242,0.22],[2.247,0.38],[2.252,0.30],[2.257,0.42],[2.262,0.20],[2.267,0.34],[2.272,0.28],[2.277,0.46],[2.282,0.32],[2.287,0.20],[2.292,0.38],[2.297,0.28],[2.302,0.42],[2.307,0.22],[2.312,0.34],[2.317,0.40],[2.322,0.26],[2.327,0.36],[2.332,0.22],[2.337,0.44],[2.342,0.32],[2.347,0.28],[2.352,0.40],[2.357,0.24],[2.362,0.34],[2.367,0.46],[2.372,0.30],[2.377,0.36],[2.382,0.22],[2.387,0.42],[2.392,0.30],[2.397,0.34],[2.402,0.20],[2.407,0.40],[2.412,0.30],[2.417,0.36],[2.422,0.26],[2.427,0.44],[2.432,0.32],[2.437,0.22],[2.442,0.38],[2.447,0.30],[2.452,0.42],[2.457,0.26],[2.462,0.36],[2.467,0.30],[2.472,0.20],[2.477,0.38],[2.482,0.32],[2.487,0.44],[2.492,0.28],[2.497,0.36]
];
const richZH = [
[1.851,-0.18],[1.855,0.15],[1.893,-0.25],[1.914,-0.24],[1.919,0.29],[1.924,0.09],[1.939,0.01],[1.980,-0.36],[1.995,-0.15],[2.016,-0.12],[2.024,0.32],[2.046,-0.20],[2.061,0.24],[2.087,-0.34],[2.097,-0.26],[2.117,-0.05],[2.127,-0.01],[2.173,0.49],[2.178,0.11],[2.183,-0.07],[2.209,-0.23],[2.240,-0.07],[2.265,-0.16],[2.275,-0.02],[2.295,-0.26],[2.321,0.56],[2.357,-0.19],[2.402,-0.05],[2.423,0.58],[2.464,0.54],[2.494,0.47],[2.514,0.43],[1.870,0.00],[1.950,0.12],[2.000,0.20],[2.040,0.05],[2.080,0.15],[2.100,0.30],[2.140,0.10],
[2.15,0.22],[2.16,0.36],[2.17,0.12],[2.18,0.28],[2.19,0.44],[2.20,0.18],[2.205,0.32],[2.21,0.06],[2.215,0.26],[2.22,0.40],[2.225,0.14],[2.23,0.30],[2.235,0.50],[2.24,0.22],[2.245,0.35],[2.25,0.10],[2.255,0.28],[2.26,0.45],[2.265,0.18],[2.27,0.34],[2.275,0.24],[2.28,0.48],[2.285,0.30],[2.29,0.14],[2.295,0.38],[2.30,0.26],[2.305,0.44],[2.31,0.20],[2.315,0.34],[2.32,0.28],[2.325,0.50],[2.33,0.16],[2.335,0.38],[2.34,0.30],[2.345,0.44],[2.35,0.24],[2.355,0.36],[2.36,0.12],[2.365,0.42],[2.37,0.30],[2.375,0.52],[2.38,0.26],[2.385,0.38],[2.39,0.20],[2.395,0.46],[2.40,0.34],[2.405,0.28],[2.41,0.40],[2.415,0.24],[2.42,0.50],[2.425,0.36],[2.43,0.30],[2.435,0.44],[2.44,0.26],[2.45,0.38],[2.455,0.48],[2.46,0.32],[2.47,0.42],[2.48,0.28],[2.49,0.36],[2.50,0.46],[2.51,0.38],[2.52,0.50],[2.25,0.38],[2.29,0.22],[2.33,0.26],[2.37,0.36],[2.41,0.32],[2.45,0.30],[2.27,0.42],[2.31,0.40],[2.35,0.46],[2.39,0.30],[2.43,0.40],[2.23,0.20],[2.30,0.34],[2.34,0.22],[2.38,0.44],[2.42,0.28],[2.28,0.06],[2.36,0.04],[2.44,0.10],[2.20,0.08],[2.32,-0.02],[2.40,0.14],
[2.151,0.30],[2.156,0.14],[2.161,0.26],[2.166,0.42],[2.171,0.20],[2.177,0.34],[2.182,0.10],[2.187,0.28],[2.192,0.38],[2.197,0.22],[2.202,0.44],[2.207,0.16],[2.212,0.32],[2.217,0.26],[2.222,0.46],[2.227,0.20],[2.232,0.36],[2.237,0.28],[2.242,0.12],[2.247,0.40],[2.252,0.30],[2.257,0.20],[2.262,0.36],[2.267,0.50],[2.272,0.26],[2.277,0.38],[2.282,0.18],[2.287,0.34],[2.292,0.44],[2.297,0.30],[2.302,0.22],[2.307,0.40],[2.312,0.28],[2.317,0.48],[2.322,0.34],[2.327,0.22],[2.332,0.42],[2.337,0.32],[2.342,0.26],[2.347,0.50],[2.352,0.38],[2.357,0.30],[2.362,0.20],[2.367,0.40],[2.372,0.34],[2.377,0.46],[2.382,0.30],[2.387,0.24],[2.392,0.42],[2.397,0.36],[2.402,0.50],[2.407,0.32],[2.412,0.44],[2.417,0.26],[2.422,0.38],[2.427,0.30],[2.432,0.48],[2.437,0.36],[2.442,0.22],[2.447,0.42],[2.452,0.34],[2.457,0.50],[2.462,0.30],[2.467,0.40],[2.472,0.26],[2.477,0.44],[2.482,0.36],[2.487,0.30],[2.492,0.48],[2.497,0.40]
];

const samples = [
  [fieldAge, poorAge, richAge],
  [fieldFeH, poorFeH, richFeH],
  [fieldMgFe, poorMgFe, richMgFe],
  [fieldZH, poorZH, richZH]
];
const meanFilled = [fieldMeanFilled, poorMeanFilled, richMeanFilled];
const meanOpen = [fieldMeanOpen, poorMeanOpen, richMeanOpen];
const comaRows = [comaAge, comaFeH, comaMgFe, comaZH];

// layout of the 4x3 grid (pixels)
const colLeft = [52, 293.8, 535.6];
const panelWidth = 241.8;
const rowTop = [49.3, 190.5, 331.7, 472.9];
const panelHeight = 141.2;

const colStyle = [
  { small: 'triangle', smallRot: 0, smallR: 1.8, smallColor: 'rgba(70,70,255,0.75)', big: 'triangle', bigRot: 0, bigR: 7.5, bigColor: '#7f0000' },
  { small: 'rect', smallRot: 0, smallR: 2.1, smallColor: 'rgba(255,60,255,0.8)', big: 'rect', bigRot: 0, bigR: 7.8, bigColor: '#000000' },
  { small: 'triangle', smallRot: 180, smallR: 1.8, smallColor: 'rgba(255,60,60,0.75)', big: 'triangle', bigRot: 180, bigR: 7.8, bigColor: '#137f13' }
];

function labelValue(s) { return parseFloat(s.replace('\u2212', '-')); }

function drawParts(ctx, parts, x, y, size) {
  const fontFor = k => (k === 'it' ? 'italic ' : '') + (k === 'sub' || k === 'sup' ? size * 0.68 : size) + 'px "DejaVu Serif"';
  let w = 0;
  parts.forEach(([t, k]) => { ctx.font = fontFor(k); w += ctx.measureText(t).width; });
  let cx = x - w / 2;
  ctx.textAlign = 'left';
  ctx.textBaseline = 'alphabetic';
  parts.forEach(([t, k]) => {
    ctx.font = fontFor(k);
    const dy = k === 'sub' ? size * 0.3 : (k === 'sup' ? -size * 0.4 : 0);
    ctx.fillText(t, cx, y + dy);
    cx += ctx.measureText(t).width;
  });
}

function symbol(ctx, kind, x, y, r, color, filled) {
  ctx.beginPath();
  if (kind === 'up') { ctx.moveTo(x, y - r); ctx.lineTo(x + r * 0.87, y + r * 0.5); ctx.lineTo(x - r * 0.87, y + r * 0.5); ctx.closePath(); }
  else if (kind === 'down') { ctx.moveTo(x, y + r); ctx.lineTo(x + r * 0.87, y - r * 0.5); ctx.lineTo(x - r * 0.87, y - r * 0.5); ctx.closePath(); }
  else if (kind === 'square') { ctx.rect(x - r, y - r, 2 * r, 2 * r); }
  else { ctx.arc(x, y, r, 0, Math.PI * 2); }
  if (filled) { ctx.fillStyle = color; ctx.fill(); }
  else { ctx.strokeStyle = color; ctx.lineWidth = 1; ctx.stroke(); }
}

const yTitles = [
  [['log', ''], ['10', 'sub'], [' Age (Gyr)', '']],
  [['[Fe/H]', '']],
  [['[Mg/Fe]', '']],
  [['[Z/H]', '']]
];
const xTitle = [['log', ''], ['10', 'sub'], [' ', ''], ['\u03c3', 'it'], [' (km s', ''], ['\u22121', 'sup'], [')', '']];

const panelPlugin = {
  id: 'panel',
  afterDatasetsDraw(chart, args, o) {
    const { ctx, chartArea: a } = chart;
    const xs = chart.scales.x, ys = chart.scales.y;
    const r = o.row, c = o.col;
    ctx.save();

    // typical error bar
    if (c === 0) {
      const px = xs.getPixelForValue(errSigma);
      const p1 = ys.getPixelForValue(errCentre[r] - errHalf[r]);
      const p2 = ys.getPixelForValue(errCentre[r] + errHalf[r]);
      ctx.strokeStyle = '#000';
      ctx.lineWidth = 1.2;
      ctx.beginPath();
      ctx.moveTo(px, p1); ctx.lineTo(px, p2);
      ctx.moveTo(px - 4.5, p1); ctx.lineTo(px + 4.5, p1);
      ctx.moveTo(px - 4.5, p2); ctx.lineTo(px + 4.5, p2);
      ctx.stroke();
    }

    // frame + inward ticks
    ctx.strokeStyle = '#000';
    ctx.lineWidth = 1.5;
    ctx.strokeRect(a.left, a.top, a.right - a.left, a.bottom - a.top);
    ctx.lineWidth = 1;
    ctx.beginPath();
    for (let k = Math.ceil(xs.min / 0.05 - 1e-6); k * 0.05 <= xs.max + 1e-9; k++) {
      const px = xs.getPixelForValue(k * 0.05);
      const len = k % 4 === 0 ? 6 : 3;
      ctx.moveTo(px, a.bottom); ctx.lineTo(px, a.bottom - len);
      ctx.moveTo(px, a.top); ctx.lineTo(px, a.top + len);
    }
    const step = rowMinor[r], every = Math.round(0.2 / step);
    for (let k = Math.ceil(ys.min / step - 1e-6); k * step <= ys.max + 1e-9; k++) {
      const py = ys.getPixelForValue(k * step);
      const len = k % every === 0 ? 6 : 3;
      ctx.moveTo(a.left, py); ctx.lineTo(a.left + len, py);
      ctx.moveTo(a.right, py); ctx.lineTo(a.right - len, py);
    }
    ctx.stroke();

    // tick labels
    ctx.fillStyle = '#222';
    ctx.font = '11px "DejaVu Sans"';
    if (c === 0) {
      ctx.textAlign = 'right';
      ctx.textBaseline = 'middle';
      rowTickLabels[r].forEach(s => ctx.fillText(s, a.left - 5, ys.getPixelForValue(labelValue(s))));
    }
    if (r === 3) {
      ctx.textAlign = 'center';
      ctx.textBaseline = 'middle';
      sigmaTickLabels.forEach(s => ctx.fillText(s, xs.getPixelForValue(labelValue(s)), a.bottom + 16));
    }

    // axis titles
    ctx.fillStyle = '#111';
    if (c === 0) {
      ctx.save();
      ctx.translate(10, (a.top + a.bottom) / 2);
      ctx.rotate(-Math.PI / 2);
      drawParts(ctx, yTitles[r], 0, 0, 13);
      ctx.restore();
    }
    if (r === 3) drawParts(ctx, xTitle, (a.left + a.right) / 2, a.bottom + 32, 13);

    // in-panel keys
    ctx.textAlign = 'right';
    ctx.textBaseline = 'middle';
    if (r === 0 && c === 0) {
      ctx.font = 'bold 10.5px "DejaVu Sans"'; ctx.fillStyle = '#2222ff';
      ctx.fillText('Field', a.right - 38, a.top + 127.7);
      symbol(ctx, 'up', a.right - 23.5, a.top + 128, 3.8, '#3333ff', false);
    }
    if (r === 0 && c === 1) {
      ctx.font = '11px "DejaVu Sans"'; ctx.fillStyle = '#ff00ff';
      ctx.fillText('Poor group', a.right - 37, a.top + 127.7);
      symbol(ctx, 'square', a.right - 23.6, a.top + 127.7, 3, '#ff00ff', false);
    }
    if (r === 0 && c === 2) {
      ctx.font = '11px "DejaVu Sans"'; ctx.fillStyle = '#ff0000';
      ctx.fillText('Rich group', a.right - 39.5, a.top + 115.7);
      symbol(ctx, 'down', a.right - 23.5, a.top + 115, 3.8, '#ff2020', false);
      ctx.fillStyle = '#800080';
      ctx.fillText('Coma', a.right - 34.5, a.top + 127.7);
      symbol(ctx, 'circle', a.right - 23.5, a.top + 127.7, 3.3, '#800080', true);
    }
    if (r === 3 && c === 2) {
      ctx.font = '11px "DejaVu Sans"';
      const keys = [['Rich group fit', '#ff0000', [], 2.2, 107.8], ['Poor group fit', '#ff00ff', [6, 3, 2, 3], 2.5, 117.8], ['Field fit', '#0000ff', [6, 3], 2.5, 127.1]];
      keys.forEach(([t, col, dash, lw, dy]) => {
        ctx.fillStyle = col;
        ctx.fillText(t, a.right - 40.5, a.top + dy);
        ctx.strokeStyle = col; ctx.lineWidth = lw; ctx.setLineDash(dash);
        ctx.beginPath(); ctx.moveTo(a.right - 38.5, a.top + dy); ctx.lineTo(a.right - 14.5, a.top + dy); ctx.stroke();
        ctx.setLineDash([]);
      });
    }
    ctx.restore();
  }
};

const wrap = document.getElementById('wrap');
for (let r = 0; r < 4; r++) {
  for (let c = 0; c < 3; c++) {
    const cv = document.createElement('canvas');
    cv.width = 830; cv.height = 664;
    wrap.appendChild(cv);
    const st = colStyle[c];
    const datasets = [];

    datasets.push({
      data: samples[r][c].map(([x, y]) => ({ x, y })),
      pointStyle: st.small, pointRotation: st.smallRot, pointRadius: st.smallR,
      pointBorderColor: st.smallColor, pointBackgroundColor: 'rgba(0,0,0,0)', pointBorderWidth: 0.9,
      order: 10
    });

    const fits = [[richFit, '#ff0000', [], 2.2, 5], [poorFit, '#ff00ff', [7, 3, 2, 3], 3, 4], [fieldFit, '#0000ff', [6, 3], 3, 3]];
    fits.forEach(([f, col, dash, lw, ord]) => {
      datasets.push({
        data: fitSigma.map((x, i) => ({ x, y: f[r][i] })),
        showLine: true, pointRadius: 0, borderColor: col, borderWidth: lw, borderDash: dash, fill: false, order: ord
      });
    });

    if (c === 2) {
      datasets.push({
        data: comaSigma.map((x, i) => ({ x, y: comaRows[r][i] })).filter(p => p.y !== null),
        pointStyle: 'circle', pointRadius: 3.8, pointBackgroundColor: '#7d0f7d', pointBorderColor: '#7d0f7d', pointBorderWidth: 0,
        order: 2
      });
    }

    datasets.push({
      data: binSigma.map((x, i) => ({ x, y: meanOpen[c][r][i] })),
      pointStyle: st.big, pointRotation: st.bigRot, pointRadius: st.bigR,
      pointBorderColor: st.bigColor, pointBackgroundColor: 'rgba(0,0,0,0)', pointBorderWidth: 1.5,
      order: 1
    });
    datasets.push({
      data: binSigma.map((x, i) => ({ x, y: meanFilled[c][r][i] })),
      pointStyle: st.big, pointRotation: st.bigRot, pointRadius: st.bigR,
      pointBorderColor: st.bigColor, pointBackgroundColor: st.bigColor, pointBorderWidth: 1,
      order: 0
    });

    if (c === 0) {
      datasets.push({
        data: [{ x: errSigma, y: errCentre[r] }],
        pointStyle: 'star', pointRadius: 3.5, pointBorderColor: '#000', pointBorderWidth: 1.5,
        order: 0
      });
    }

    new Chart(cv, {
      type: 'scatter',
      data: { datasets },
      options: {
        responsive: false,
        animation: false,
        events: [],
        layout: {
          padding: {
            left: colLeft[c], top: rowTop[r],
            right: 830 - colLeft[c] - panelWidth, bottom: 664 - rowTop[r] - panelHeight
          }
        },
        plugins: { legend: { display: false }, tooltip: { enabled: false }, panel: { row: r, col: c } },
        scales: {
          x: { type: 'linear', display: false, min: sigmaRange[0], max: sigmaRange[1] },
          y: { type: 'linear', display: false, min: rowRanges[r][0], max: rowRanges[r][1] }
        }
      },
      plugins: [panelPlugin]
    });
  }
}
</script>
</body>
</html>
